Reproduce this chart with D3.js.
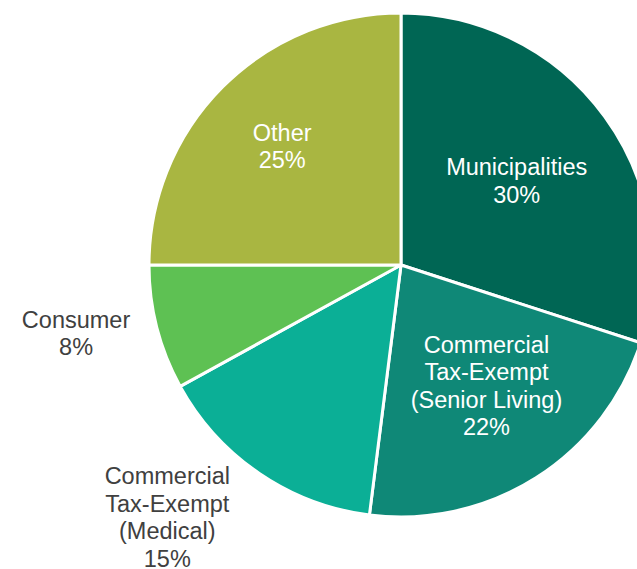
<!DOCTYPE html>
<html>
<head>
<meta charset="utf-8">
<script src="https://cdn.jsdelivr.net/npm/d3@7"></script>
<style>
  body { margin: 0; background: #fff; }
  svg { display: block; font-family: "Liberation Sans", Arial, sans-serif; }
</style>
</head>
<body>
<div class="pie-chart"></div>
<script>
var categories = ["Municipalities", "Commercial Tax-Exempt (Senior Living)", "Commercial Tax-Exempt (Medical)", "Consumer", "Other"]
var labelLines = [["Municipalities"], ["Commercial", "Tax-Exempt", "(Senior Living)"], ["Commercial", "Tax-Exempt", "(Medical)"], ["Consumer"], ["Other"]]
var shares = [30, 22, 15, 8, 25]
var colors = ["#006654", "#0F8877", "#0BAF96", "#5EC153", "#A9B641"]

document.addEventListener("DOMContentLoaded", draw)

function draw() {
  var width = 637,
    height = 569,
    radius = 252,
    cx = 401,
    cy = 265;

  var svg = d3.select(".pie-chart").append("svg")
    .attr("width", width)
    .attr("height", height)

  var g = svg.append("g")
    .attr("transform", `translate(${cx},${cy})`)

  var rows = categories.map(function (c, i) {
    return { name: c, lines: labelLines[i], value: shares[i], color: colors[i] }
  })

  var pie = d3.pie()
    .sort(null)
    .value(function (d) { return d.value })

  var arc = d3.arc()
    .innerRadius(0)
    .outerRadius(radius)

  var slices = pie(rows)

  g.selectAll("path")
    .data(slices)
    .enter().append("path")
    .attr("d", arc)
    .attr("fill", function (d) { return d.data.color })
    .attr("stroke", "#fff")
    .attr("stroke-width", 3)
    .attr("stroke-linejoin", "round")

  // label distance from centre; small slices get their label outside
  var labelRadius = [143, 148, 344, 332, 168]
  var angleShift = [0, -0.05, 0.15, 0.045, 0]
  var lineH = 27.5

  var labels = g.selectAll("text.label")
    .data(slices)
    .enter().append("text")
    .attr("class", "label")
    .attr("text-anchor", "middle")
    .attr("font-size", "23.5px")
    .attr("fill", function (d, i) { return (i === 2 || i === 3) ? "#404040" : "#fff" })
    .attr("transform", function (d, i) {
      var a = (d.startAngle + d.endAngle) / 2 + angleShift[i]
      var r = labelRadius[i]
      return `translate(${Math.sin(a) * r},${-Math.cos(a) * r})`
    })

  labels.each(function (d) {
    var lines = d.data.lines.concat([d.data.value + "%"])
    var t = d3.select(this)
    var top = -(lines.length - 1) * lineH / 2
    lines.forEach(function (line, k) {
      t.append("tspan")
        .attr("x", 0)
        .attr("y", top + k * lineH)
        .attr("dy", "0.35em")
        .text(line)
    })
  })
}
</script>
</body>
</html>
